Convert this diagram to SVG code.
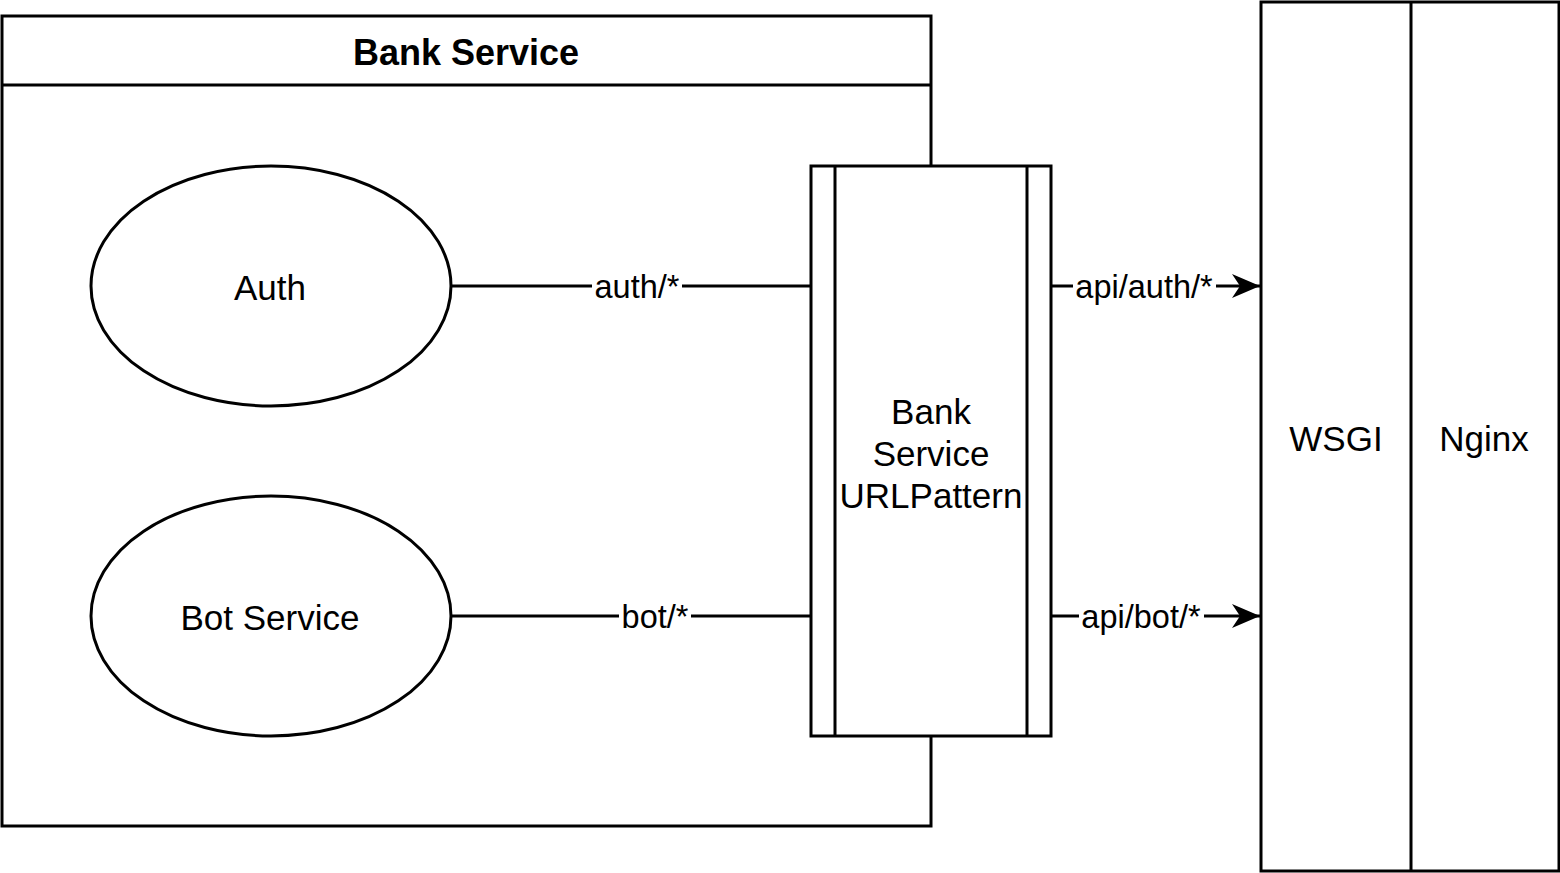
<svg xmlns="http://www.w3.org/2000/svg" width="1560" height="873" viewBox="0 0 1560 873">
<style>
  .shape { fill: #ffffff; stroke: #000000; stroke-width: 3; }
  .line { fill: none; stroke: #000000; stroke-width: 3; }
  .node { font-family: "Liberation Sans", Arial, Helvetica, sans-serif; font-size: 35px; fill: #000000; text-anchor: middle; }
  .title { font-weight: bold; font-size: 36px; }
  .edge { font-family: "Liberation Sans", Arial, Helvetica, sans-serif; font-size: 32.5px; fill: #000000; text-anchor: middle; }
  .lblbg { fill: #ffffff; stroke: none; }
</style>
<defs>
  <marker id="arrow" viewBox="0 0 28 28" refX="28" refY="14" markerWidth="28" markerHeight="28" markerUnits="userSpaceOnUse" orient="auto" overflow="visible">
    <path d="M0,2 L28,14 L0,26 L8,14 Z" fill="#000000"/>
  </marker>
</defs>
<rect width="1560" height="873" fill="#ffffff"/>

<g id="bank-service">
  <rect class="shape" x="2" y="16" width="929" height="810"/>
  <line class="line" x1="2" y1="85" x2="931" y2="85"/>
  <text class="node title" x="466" y="65">Bank Service</text>
</g>

<g id="auth">
  <ellipse class="shape" cx="271" cy="286" rx="180" ry="120"/>
  <text class="node" x="270" y="300">Auth</text>
</g>

<g id="bot-service">
  <ellipse class="shape" cx="271" cy="616" rx="180" ry="120"/>
  <text class="node" x="270" y="630">Bot Service</text>
</g>

<g id="url-pattern">
  <rect class="shape" x="811" y="166" width="240" height="570"/>
  <line class="line" x1="835" y1="166" x2="835" y2="736"/>
  <line class="line" x1="1027" y1="166" x2="1027" y2="736"/>
  <text class="node" x="931" y="424">Bank</text>
  <text class="node" x="931" y="466">Service</text>
  <text class="node" x="931" y="508">URLPattern</text>
</g>

<g id="wsgi-nginx">
  <rect class="shape" x="1261" y="2" width="298" height="869"/>
  <line class="line" x1="1411" y1="2" x2="1411" y2="871"/>
  <text class="node" x="1336" y="451">WSGI</text>
  <text class="node" x="1484" y="451">Nginx</text>
</g>

<g id="connectors">
  <line class="line" x1="451" y1="286" x2="811" y2="286"/>
  <rect class="lblbg" x="592" y="270" width="90" height="32"/>
  <text class="edge" x="637" y="298">auth/*</text>

  <line class="line" x1="451" y1="616" x2="811" y2="616"/>
  <rect class="lblbg" x="619" y="600" width="72" height="32"/>
  <text class="edge" x="655" y="628">bot/*</text>

  <line class="line" x1="1051" y1="286" x2="1260" y2="286" marker-end="url(#arrow)"/>
  <rect class="lblbg" x="1073" y="270" width="143" height="32"/>
  <text class="edge" x="1144" y="298">api/auth/*</text>

  <line class="line" x1="1051" y1="616" x2="1260" y2="616" marker-end="url(#arrow)"/>
  <rect class="lblbg" x="1079" y="600" width="125" height="32"/>
  <text class="edge" x="1141" y="628">api/bot/*</text>
</g>
</svg>
